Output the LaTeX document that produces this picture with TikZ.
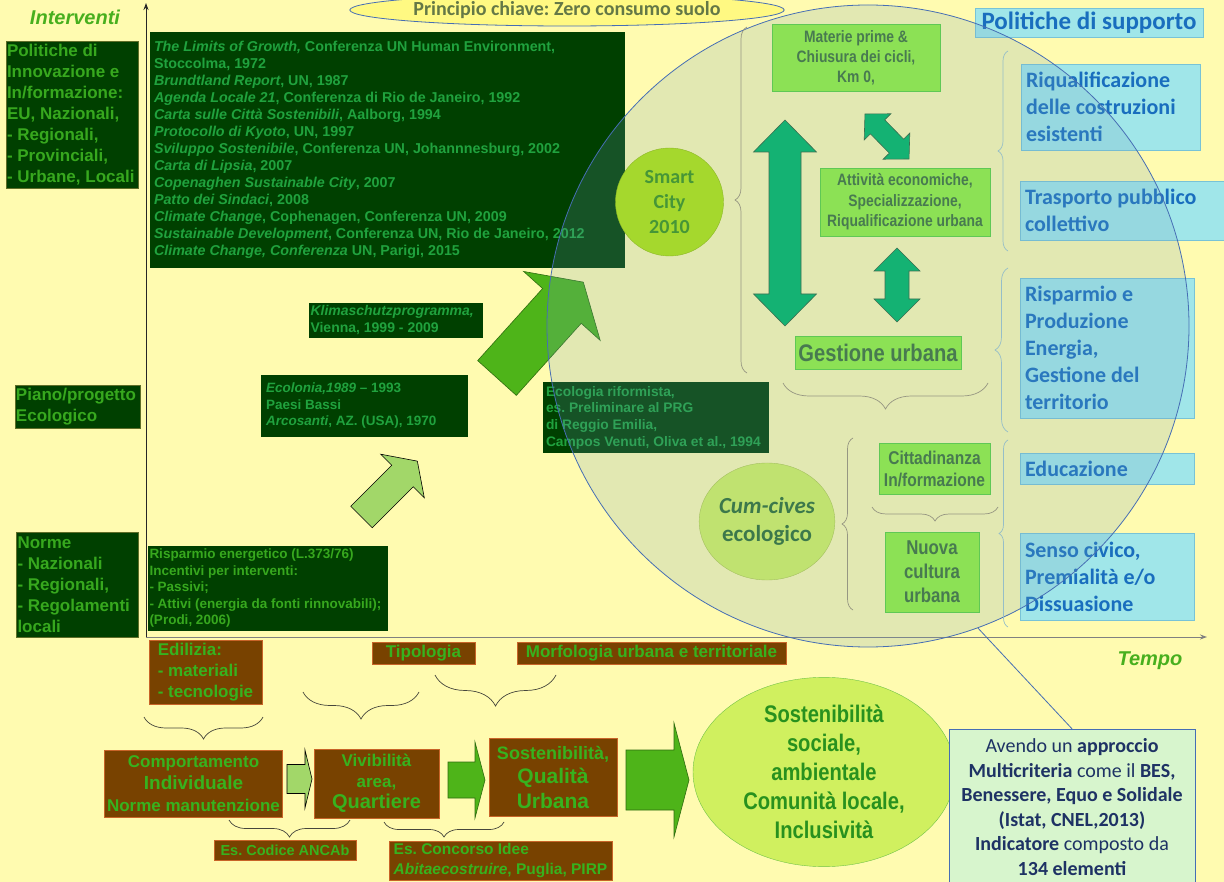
\documentclass[tikz,border=0pt]{standalone}
\usepackage{fontspec}
\setmainfont{Liberation Sans}
\newfontfamily\calsans{Carlito}
\newfontfamily\condsans[FakeStretch=0.84]{Liberation Sans}
\usetikzlibrary{shapes.geometric, arrows.meta, decorations.pathreplacing}
\frenchspacing

\definecolor{bgyellow}{RGB}{255,251,176}
\definecolor{dkgreen}{RGB}{0,64,0}
\definecolor{dkline}{RGB}{95,110,40}
\definecolor{lgreen}{RGB}{55,168,30}
\definecolor{listgreen}{RGB}{32,162,62}
\definecolor{titlegreen}{RGB}{72,175,30}
\definecolor{brownbg}{RGB}{120,66,0}
\definecolor{brownline}{RGB}{200,100,40}
\definecolor{browntext}{RGB}{55,178,30}
\definecolor{cellgreen}{RGB}{140,225,85}
\definecolor{cellline}{RGB}{95,200,85}
\definecolor{celltext}{RGB}{72,122,80}
\definecolor{supcyan}{RGB}{160,230,233}
\definecolor{supline}{RGB}{120,195,215}
\definecolor{supblue}{RGB}{25,110,190}
\definecolor{tealfill}{RGB}{20,178,115}
\definecolor{tealline}{RGB}{60,110,80}
\definecolor{arrowgreen}{RGB}{78,180,25}
\definecolor{arrowlight}{RGB}{162,215,105}
\definecolor{smartlime}{RGB}{165,216,45}
\definecolor{smarttext}{RGB}{70,150,55}
\definecolor{civeslime}{RGB}{192,226,112}
\definecolor{civestext}{RGB}{60,120,75}
\definecolor{sostlime}{RGB}{208,240,95}
\definecolor{sosttext}{RGB}{40,145,30}
\definecolor{avendobg}{RGB}{215,245,205}
\definecolor{avendotext}{RGB}{30,50,100}
\definecolor{ringblue}{RGB}{70,110,180}
\definecolor{ringfill}{RGB}{110,160,190}
\definecolor{keyyellow}{RGB}{255,249,130}
\definecolor{keytext}{RGB}{100,120,70}
\definecolor{bracegrey}{RGB}{70,70,60}
\definecolor{bracelight}{RGB}{150,150,130}
\definecolor{braceblue}{RGB}{150,190,200}

\newcommand{\fsz}[2]{\fontsize{#1}{#2}\selectfont}
% fat arrow: style, tail centre, angle, length, half shaft, half head, head length
\newcommand{\fatarrow}[7][]{%
  \draw[#1, shift={#2}, rotate=#3] (0,-#5) -- ({#4-#7},-#5) -- ({#4-#7},-#6) -- (#4,0)
    -- ({#4-#7},#6) -- ({#4-#7},#5) -- (0,#5) -- cycle;}
% fat double arrow: style, centre, angle, length, half shaft, half head, head length
\newcommand{\fatdarrow}[7][]{%
  \draw[#1, shift={#2}, rotate=#3] ({-#4/2},0) -- ({-#4/2+#7},-#6) -- ({-#4/2+#7},-#5)
    -- ({#4/2-#7},-#5) -- ({#4/2-#7},-#6) -- ({#4/2},0) -- ({#4/2-#7},#6)
    -- ({#4/2-#7},#5) -- ({-#4/2+#7},#5) -- ({-#4/2+#7},#6) -- cycle;}

\begin{document}
\begin{tikzpicture}[x=1pt, y=-1pt,
    axisline/.style={line width=1pt, -{Stealth[length=7pt, width=5pt]}},
    axislabel/.style={font=\bfseries\itshape\fsz{20}{24}, text=titlegreen},
    levelbox/.style={rectangle, fill=dkgreen, draw=dkline, inner xsep=1.5pt, inner ysep=0pt, text=lgreen, align=flush left, font=\bfseries\fsz{17}{21}},
    listbox/.style={rectangle, fill=dkgreen, inner xsep=4pt, inner ysep=0pt, text=listgreen, align=flush left, font=\bfseries\fsz{14}{17}},
    brownbox/.style={rectangle, fill=brownbg, draw=brownline, inner sep=1pt, text=browntext, align=flush center, font=\bfseries\fsz{17}{21}},
    supbox/.style={rectangle, fill=supcyan, draw=supline, inner xsep=5pt, inner ysep=0pt, text=supblue, align=flush left, font=\calsans\bfseries\fsz{22}{27}},
    cellbox/.style={rectangle, fill=cellgreen, draw=cellline, inner sep=1pt, text=celltext, align=flush center},
    litearrow/.style={fill=arrowlight, draw=black, line width=0.6pt},
    greenarrow/.style={fill=arrowgreen, draw=arrowgreen!60!black, line width=0.6pt},
    tealdart/.style={fill=tealfill, draw=tealline, line width=0.6pt},
    curly/.style={decorate, decoration={brace, amplitude=#1pt}, draw=bracegrey, line width=0.7pt},
]
\useasboundingbox (0,0) rectangle (1224,882);
\fill[bgyellow] (0,0) rectangle (1224,882);

% Axes
\coordinate (origin) at (146,637);
\coordinate (ytop) at (146,3);
\coordinate (xend) at (1207,637);
\draw[axisline, black!85] (origin) -- (ytop);
\draw[axisline, gray] (origin) -- (xend);
\node[axislabel] (interventi) at (75,17) {Interventi};
\node[axislabel] (tempo) at (1150,661) {Tempo};

% Levels of intervention
\node[levelbox, inner xsep=1pt, text width=130, minimum height=147] (innov) at (72,114.5) {Politiche di\\Innovazione e\\In/formazione:\\EU, Nazionali,\\- Regionali,\\- Provinciali,\\- Urbane, Locali};
\node[levelbox, inner xsep=1pt, text width=123, minimum height=43] (piano) at (77.5,406.5) {Piano/progetto\\Ecologico};
\node[levelbox, text width=119, minimum height=105] (norme) at (77,584.5) {Norme\\- Nazionali\\- Regionali,\\- Regolamenti\\locali};

% Milestones
\node[listbox, font=\bfseries\fsz{14.3}{17}, text width=467, minimum height=236] (summits) at (387.5,150) {\textit{The Limits of Growth,} Conferenza UN Human Environment,\\Stoccolma, 1972\\\textit{Brundtland Report}, UN, 1987\\\textit{Agenda Locale 21}, Conferenza di Rio de Janeiro, 1992\\\textit{Carta sulle Città Sostenibili}, Aalborg, 1994\\\textit{Protocollo di Kyoto}, UN, 1997\\\textit{Sviluppo Sostenibile}, Conferenza UN, Johannnesburg, 2002\\\textit{Carta di Lipsia}, 2007\\\textit{Copenaghen Sustainable City}, 2007\\\textit{Patto dei Sindaci}, 2008\\\textit{Climate Change}, Cophenagen, Conferenza UN, 2009\\\textit{Sustainable Development}, Conferenza UN, Rio de Janeiro, 2012\\\textit{Climate Change, Conferenza} UN, Parigi, 2015};
\node[listbox, inner xsep=1.5pt, text width=171, minimum height=35] (klima) at (396,320.5) {\textit{Klimaschutzprogramma,}\\Vienna, 1999 - 2009};
\node[listbox, font=\bfseries\fsz{13.5}{16.5}, inner xsep=5pt, text width=197, minimum height=62] (ecolonia) at (364.5,406) {\textit{Ecolonia,1989} -- 1993\\Paesi Bassi\\\textit{Arcosanti}, AZ. (USA), 1970};
\node[listbox, font=\bfseries\fsz{13.8}{16.7}, inner xsep=3pt, text width=220, minimum height=71] (riformista) at (656,417.5) {Ecologia riformista,\\es. Preliminare al PRG\\di Reggio Emilia,\\Campos Venuti, Oliva et al., 1994};
\node[listbox, font=\bfseries\fsz{13.5}{16.5}, text=lgreen, inner xsep=1.5pt, text width=237, minimum height=85] (risparmio) at (268,588.5) {Risparmio energetico (L.373/76)\\Incentivi per interventi:\\- Passivi;\\- Attivi (energia da fonti rinnovabili);\\(Prodi, 2006)};

% Growth arrows
\fatarrow[litearrow]{(361.5,517)}{45}{79}{15.2}{30.8}{21}
\fatarrow[greenarrow]{(497,378)}{48}{129}{26}{51.5}{32}

% Building scale
\node[brownbox, align=flush left, minimum width=113, minimum height=64] (edilizia) at (205.5,672) {Edilizia:\\- materiali\\- tecnologie};
\node[brownbox, minimum width=103, minimum height=22] (tipologia) at (423.5,653) {Tipologia};
\node[brownbox, minimum width=269, minimum height=22] (morfologia) at (651.5,653) {Morfologia urbana e territoriale};
\node[brownbox, font=\bfseries\fsz{17}{22}, minimum width=178, minimum height=67] (comport) at (193.5,783.5) {Comportamento\\{\fsz{19}{22}Individuale}\\Norme manutenzione};
\node[brownbox, font=\bfseries\fsz{17}{21}, minimum width=125, minimum height=69] (vivibilita) at (376.5,783.5) {Vivibilità\\area,\\{\fsz{20}{22}Quartiere}};
\node[brownbox, font=\bfseries\fsz{18}{24.5}, minimum width=128, minimum height=78] (qualita) at (553,777) {Sostenibilità,\\{\fsz{21}{24.5}Qualità}\\{\fsz{21}{24.5}Urbana}};
\node[brownbox, font=\bfseries\fsz{14.5}{18}, minimum width=142, minimum height=20] (ancab) at (285,850) {Es. Codice ANCAb};
\node[brownbox, align=flush left, font=\bfseries\fsz{15.5}{19.5}, minimum width=223, minimum height=39] (concorso) at (500.5,860.5) {Es. Concorso Idee\\\textit{Abitaecostruire}, Puglia, PIRP};

\fatarrow[litearrow]{(287,779)}{0}{25}{14.5}{29}{7}
\fatarrow[greenarrow]{(448,780)}{0}{37}{18}{38}{10}
\fatarrow[greenarrow]{(626,780)}{0}{63}{30}{57}{15}

\draw[curly=22] (263,717) -- (144,717);
\draw[curly=27] (419,692) -- (303,692);
\draw[curly=31] (556,675) -- (435,675);
\draw[curly=17] (350,820) -- (229,820);
\draw[curly=15] (504,822) -- (384,822);

% Outcome
\node[ellipse, fill=sostlime, draw=arrowgreen!80, minimum width=262, minimum height=170, inner sep=0pt, align=flush center, text=sosttext, font=\condsans\bfseries\fsz{24}{29}] (sociale) at (824,772) {Sostenibilità\\sociale,\\ambientale\\Comunità locale,\\Inclusività};
\node[rectangle, fill=avendobg, draw=ringblue, minimum width=246, minimum height=156, align=flush center, text=avendotext, font=\calsans\fsz{20}{24.5}] (avendo) at (1072,807) {Avendo un \textbf{approccio}\\\textbf{Multicriteria} come il \textbf{BES,}\\\textbf{Benessere, Equo e Solidale}\\\textbf{(Istat, CNEL,2013)}\\\textbf{Indicatore} composto da\\\textbf{134 elementi}};

% Support policies
\node[supbox, font=\calsans\bfseries\fsz{25}{29}, minimum width=228, minimum height=29] (supporto) at (1089,22.5) {Politiche di supporto};
\node[supbox, text width=169, minimum height=86] (riqual) at (1110.5,107) {Riqualificazione\\delle costruzioni\\esistenti};
\node[supbox, text width=194, minimum height=59] (trasporto) at (1122,210.5) {Trasporto pubblico\\collettivo};
\node[supbox, text width=164, minimum height=140] (energia) at (1107,348) {Risparmio e\\Produzione\\Energia,\\Gestione del\\territorio};
\node[supbox, text width=164, minimum height=31] (educazione) at (1107,468.5) {Educazione};
\node[supbox, text width=164, minimum height=87] (civico) at (1107,576.5) {Senso civico,\\Premialità e/o\\Dissuasione};

\node[ellipse, fill=keyyellow, draw=ringblue, line width=0.8pt, minimum width=396, minimum height=32, inner sep=0pt, text=keytext, font=\calsans\bfseries\fsz{20}{24}] (principio) at (567,10) {Principio chiave: Zero consumo suolo};

% Smart city ring
\node[circle, draw=ringblue, line width=0.8pt, fill=ringfill, fill opacity=0.2, minimum size=642, inner sep=0pt] (ring) at (868,326) {};

\node[circle, fill=smartlime, draw=smartlime!85!black, minimum size=108, inner sep=0pt, align=flush center, text=smarttext, font=\calsans\bfseries\fsz{20}{25}] (smart) at (669.5,202) {Smart\\City\\2010};
\node[cellbox, minimum width=168, minimum height=67, font=\condsans\bfseries\fsz{16.5}{20}] (materie) at (856,57.5) {Materie prime \&\\Chiusura dei cicli,\\Km 0,};
\node[cellbox, minimum width=170, minimum height=68, font=\condsans\bfseries\fsz{16.5}{20.5}] (attivita) at (905,202) {Attività economiche,\\Specializzazione,\\Riqualificazione urbana};
\node[cellbox, minimum width=166, minimum height=33, font=\condsans\bfseries\fsz{24}{28}] (gestione) at (878,352.5) {Gestione urbana};
\node[cellbox, minimum width=111, minimum height=51, font=\condsans\bfseries\fsz{18.5}{22}] (cittadinanza) at (934.5,468.5) {Cittadinanza\\In/formazione};
\node[cellbox, minimum width=94, minimum height=80, font=\condsans\bfseries\fsz{20}{24}] (nuova) at (932,572) {Nuova\\cultura\\urbana};
\node[ellipse, fill=civeslime, draw=civeslime!85!black, minimum width=129, minimum height=117, inner sep=0pt, align=flush center, text=civestext, font=\calsans\bfseries\fsz{23}{28}] (cumcives) at (767,521.5) {\textit{Cum-cives}\\ecologico};

\fatdarrow[tealdart]{(785,223)}{90}{206}{16}{31.5}{32}
\fatdarrow[tealdart]{(897,285)}{90}{74}{12}{23}{23}
\fatdarrow[tealdart]{(887,136.5)}{-45.6}{63}{10}{18.7}{18}

\draw[curly=12, draw=bracelight] (747,373) -- (747,27);
\draw[curly=26, draw=bracelight] (988,383) -- (783,383);
\draw[curly=11, draw=bracelight] (853,610) -- (853,438);
\draw[curly=14, draw=bracelight] (998,507) -- (872,507);
\draw[curly=10, draw=braceblue] (1008,251) -- (1008,51);
\draw[curly=13, draw=braceblue] (1008,432) -- (1008,268);
\draw[curly=9, draw=braceblue] (1008,627) -- (1008,440);

\draw[ringblue, line width=0.8pt] (ring.-70.6) -- (avendo.north);

\end{tikzpicture}
\end{document}
